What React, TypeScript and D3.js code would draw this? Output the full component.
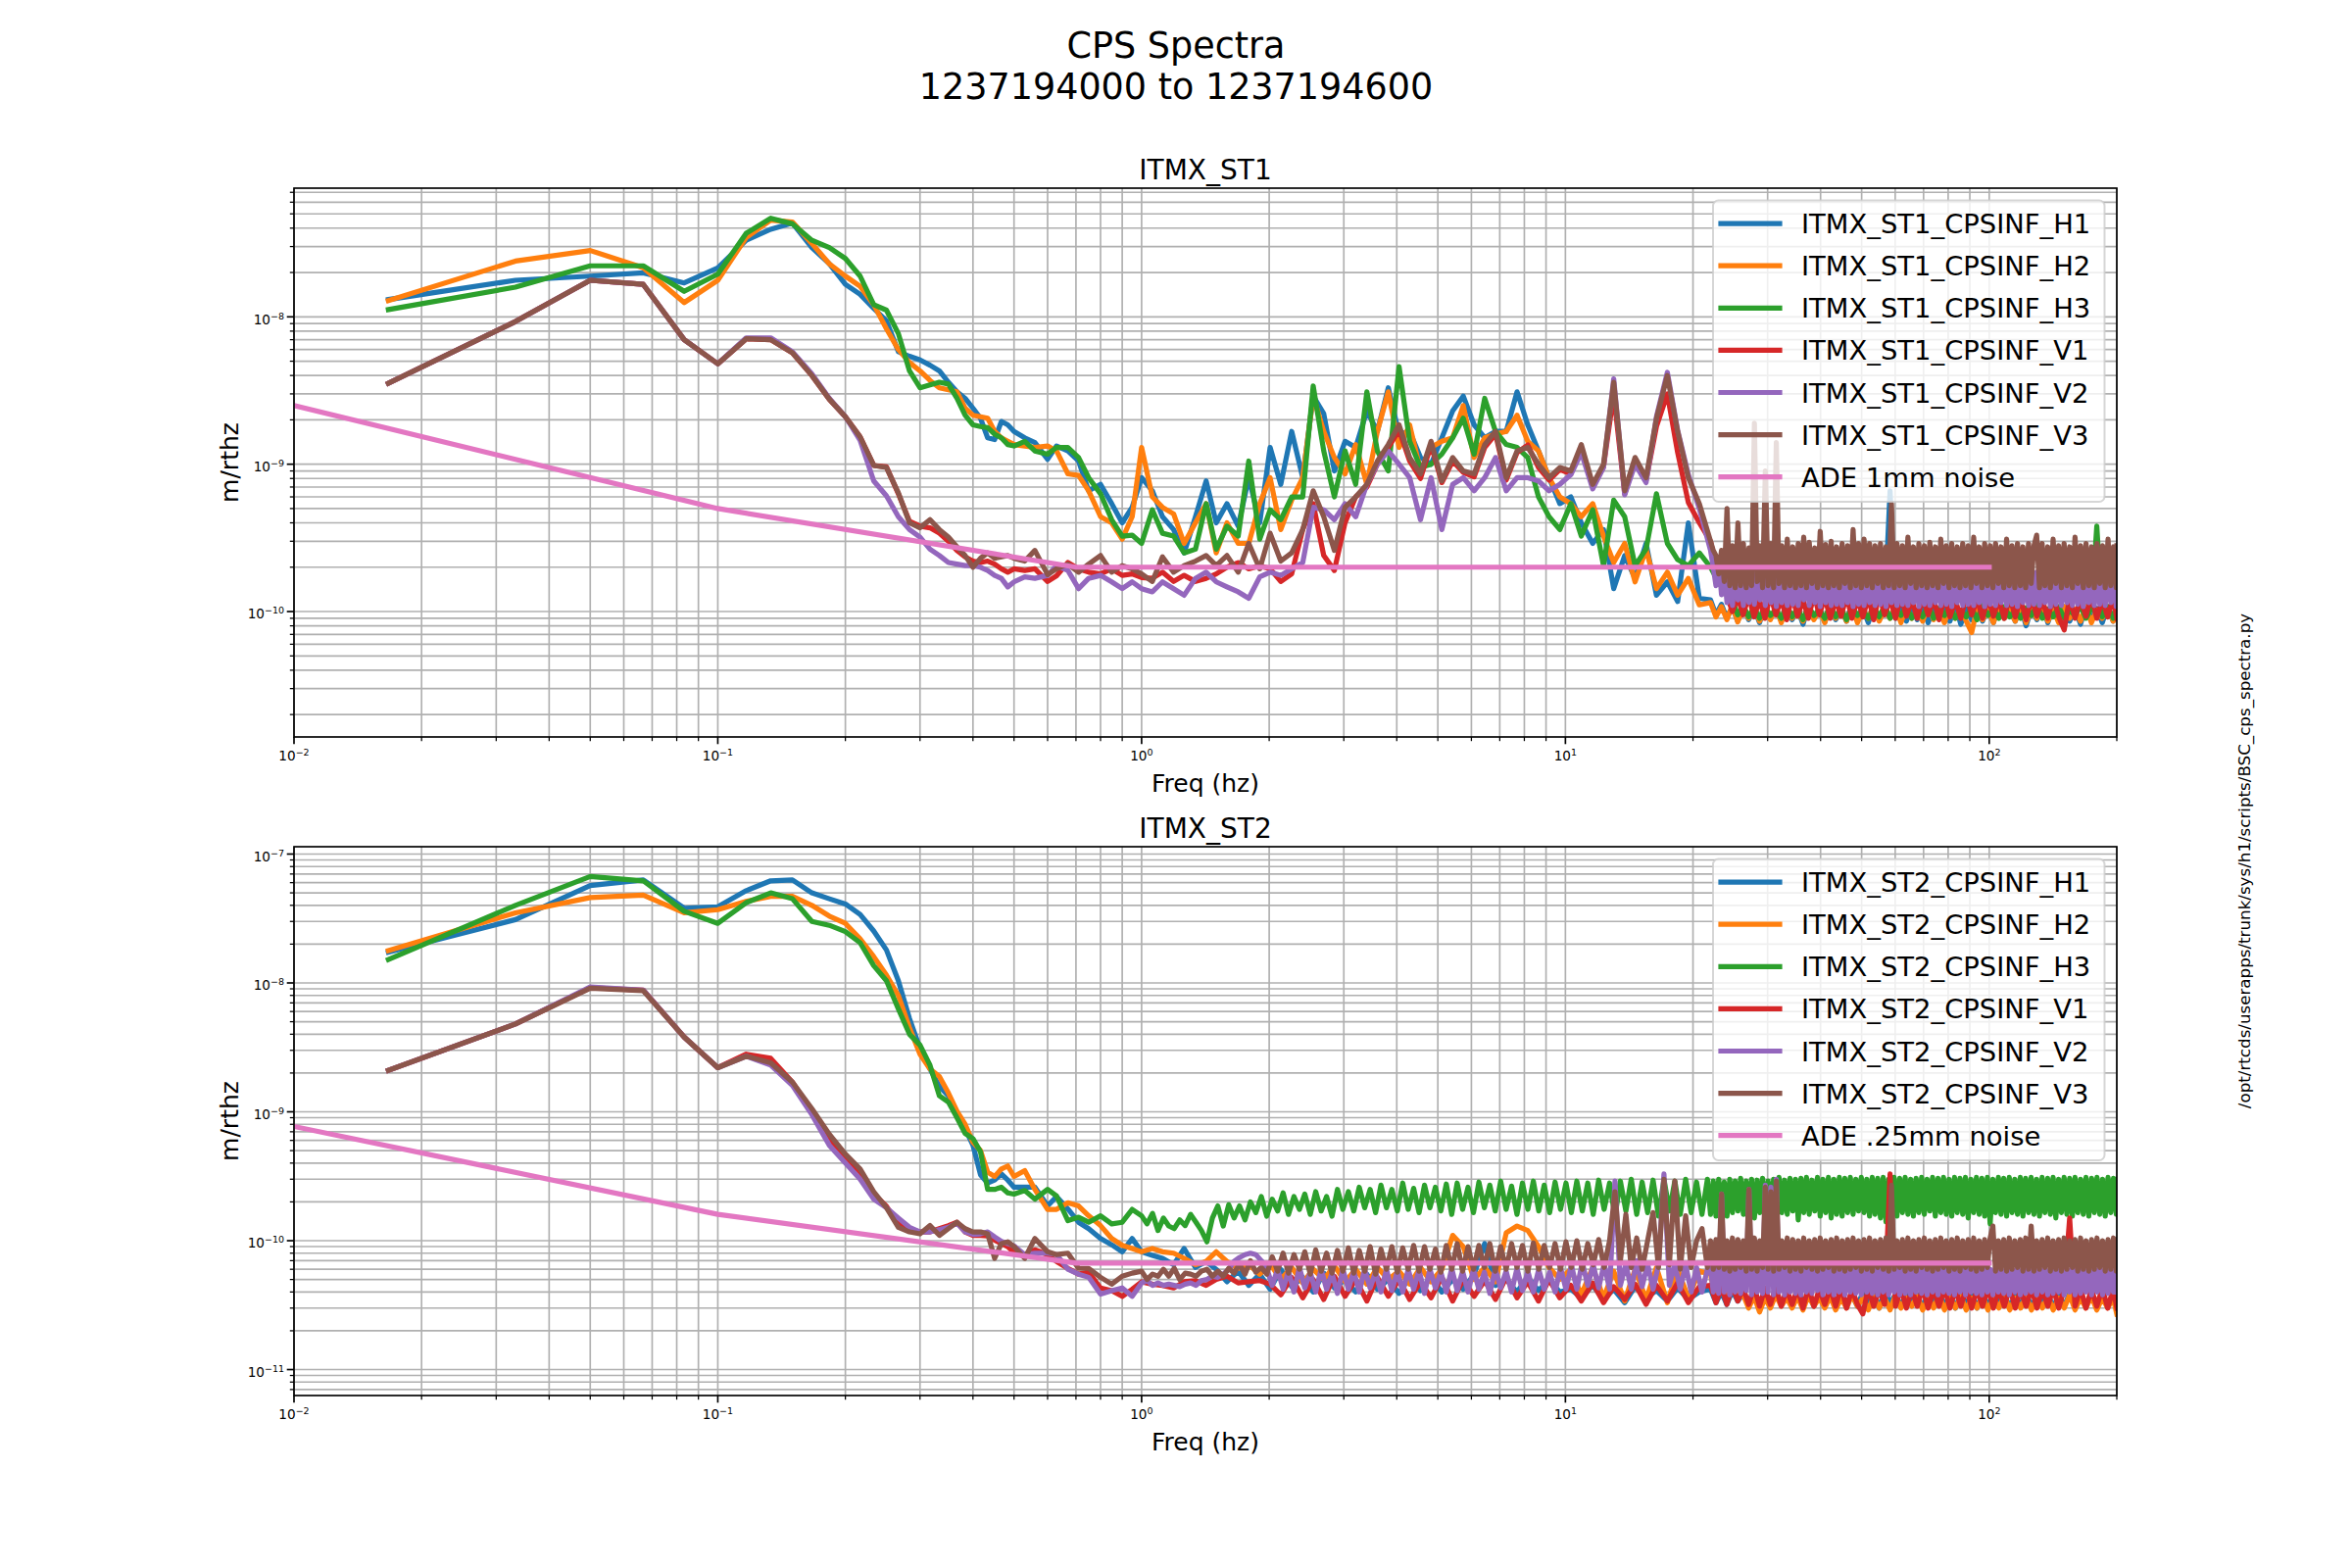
import React from 'react';
import * as d3 from 'd3';

// Frequency grid (Hz), 0.0167 – 20.7 Hz
const FREQ_LOW = [
  0.0167, 0.0333, 0.05, 0.0667, 0.0833, 0.1, 0.1167, 0.1333, 0.15, 0.1667,
  0.1833, 0.2, 0.2167, 0.2333, 0.25, 0.2667, 0.2833, 0.3, 0.3167, 0.3333,
  0.35, 0.3667, 0.3833, 0.4, 0.4167, 0.4333, 0.45, 0.4667, 0.4833, 0.5,
  0.53, 0.56, 0.6, 0.63, 0.67, 0.71, 0.75, 0.8, 0.85, 0.9,
  0.95, 1.0, 1.06, 1.12, 1.19, 1.26, 1.34, 1.42, 1.5, 1.59,
  1.69, 1.79, 1.9, 2.01, 2.13, 2.26, 2.4, 2.54, 2.69, 2.85,
  3.02, 3.2, 3.4, 3.6, 3.82, 4.05, 4.29, 4.55, 4.82, 5.11,
  5.42, 5.74, 6.09, 6.45, 6.84, 7.25, 7.69, 8.15, 8.64, 9.15,
  9.7, 10.3, 10.9, 11.6, 12.3, 13, 13.8, 14.6, 15.5, 16.4,
  17.4, 18.4, 19.5, 20.7,
];
// Finer frequency grid (Hz), 1 – 21.6 Hz (used for the ST2 noise bands)
const FREQ_MID = [
  1.0, 1.03, 1.061, 1.093, 1.126, 1.159, 1.194, 1.23, 1.267, 1.305,
  1.344, 1.384, 1.426, 1.469, 1.513, 1.558, 1.605, 1.653, 1.702, 1.754,
  1.806, 1.86, 1.916, 1.974, 2.033, 2.094, 2.157, 2.221, 2.288, 2.357,
  2.427, 2.5, 2.575, 2.652, 2.732, 2.814, 2.898, 2.985, 3.075, 3.167,
  3.262, 3.36, 3.461, 3.565, 3.671, 3.782, 3.895, 4.012, 4.132, 4.256,
  4.384, 4.515, 4.651, 4.79, 4.934, 5.082, 5.235, 5.392, 5.553, 5.72,
  5.892, 6.068, 6.25, 6.438, 6.631, 6.83, 7.035, 7.246, 7.463, 7.687,
  7.918, 8.155, 8.4, 8.652, 8.912, 9.179, 9.454, 9.738, 10.03, 10.33,
  10.64, 10.96, 11.29, 11.63, 11.98, 12.34, 12.71, 13.09, 13.48, 13.89,
  14.3, 14.73, 15.17, 15.63, 16.1, 16.58, 17.08, 17.59, 18.12, 18.66,
  19.22, 19.8, 20.39, 21.0, 21.63,
];
// Frequency grid (Hz), 22 – 200 Hz
const FREQ_HIGH = [
  22.0, 22.66, 23.34, 24.04, 24.76, 25.5, 26.27, 27.06, 27.87, 28.71,
  29.57, 30.45, 31.37, 32.31, 33.28, 34.27, 35.3, 36.36, 37.45, 38.58,
  39.73, 40.93, 42.15, 43.42, 44.72, 46.06, 47.44, 48.87, 50.33, 51.84,
  53.4, 55.0, 56.65, 58.35, 60.1, 61.9, 63.76, 65.67, 67.64, 69.67,
  71.76, 73.92, 76.13, 78.42, 80.77, 83.19, 85.69, 88.26, 90.91, 93.63,
  96.44, 99.34, 102.3, 105.4, 108.5, 111.8, 115.2, 118.6, 122.2, 125.8,
  129.6, 133.5, 137.5, 141.6, 145.9, 150.3, 154.8, 159.4, 164.2, 169.1,
  174.2, 179.4, 184.8, 190.4, 196.1, 200,
];
// Finer frequency grid (Hz), 22 – 200 Hz, for the wide noise bands
const FREQ_FINE = [
  22.0, 22.33, 22.66, 23.0, 23.35, 23.7, 24.06, 24.42, 24.78, 25.15,
  25.53, 25.91, 26.3, 26.7, 27.1, 27.5, 27.92, 28.34, 28.76, 29.19,
  29.63, 30.08, 30.53, 30.99, 31.45, 31.92, 32.4, 32.89, 33.38, 33.88,
  34.39, 34.91, 35.43, 35.96, 36.5, 37.05, 37.61, 38.17, 38.74, 39.33,
  39.92, 40.51, 41.12, 41.74, 42.37, 43.0, 43.65, 44.3, 44.97, 45.64,
  46.33, 47.02, 47.73, 48.45, 49.17, 49.91, 50.66, 51.42, 52.19, 52.97,
  53.77, 54.57, 55.39, 56.22, 57.07, 57.92, 58.79, 59.67, 60.57, 61.48,
  62.4, 63.34, 64.29, 65.25, 66.23, 67.22, 68.23, 69.26, 70.29, 71.35,
  72.42, 73.51, 74.61, 75.73, 76.87, 78.02, 79.19, 80.38, 81.58, 82.81,
  84.05, 85.31, 86.59, 87.89, 89.21, 90.55, 91.9, 93.28, 94.68, 96.1,
  97.55, 99.01, 100.5, 102.0, 103.5, 105.1, 106.6, 108.2, 109.9, 111.5,
  113.2, 114.9, 116.6, 118.4, 120.1, 121.9, 123.8, 125.6, 127.5, 129.4,
  131.4, 133.3, 135.3, 137.4, 139.4, 141.5, 143.6, 145.8, 148.0, 150.2,
  152.5, 154.8, 157.1, 159.4, 161.8, 164.3, 166.7, 169.2, 171.8, 174.4,
  177.0, 179.6, 182.3, 185.1, 187.8, 190.7, 193.5, 196.4, 199.4, 200,
];

// All spectra values below are in units of 1e-10 m/rthz
const UNIT = 1e-10;

// ---------------- ITMX_ST1 ----------------
const ST1_H1_LOW = [
  131, 177, 189, 199, 170, 215, 331, 393, 433, 295,
  229, 166, 142, 114, 94, 58, 54, 51, 47, 43,
  36, 31, 28, 24, 20.5, 15.1, 14.7, 19.5, 18.5, 16.7,
  15.1, 14, 10.8, 13.3, 12.3, 10.5, 6.6, 7.3, 5.4, 4.0,
  5.1, 8.1, 6.6, 4.4, 3.6, 2.5, 4.4, 7.7, 4.0, 5.4,
  3.8, 8.1, 4.0, 13, 7.3, 16.7, 8.1, 29, 22, 9.0,
  14.3, 13, 23, 16.7, 33, 16, 16.7, 11.1, 10, 15.1,
  23, 29, 18.5, 15.1, 16.7, 16.7, 31, 18.5, 12.3, 8.1,
  5.4, 6.0, 4.0, 2.9, 3.6, 1.43, 2.4, 1.68, 2.9, 1.29,
  1.59, 1.17, 4.0, 1.23,
];
const ST1_H1_HIGH = [
  1.2, 0.95, 1.12, 0.9, 1.08, 0.86, 1.1, 0.88, 1.05, 0.84,
  1.1, 0.9, 1.06, 0.86, 1.12, 0.88, 1.04, 0.82, 1.1, 0.9,
  1.06, 0.85, 1.1, 0.88, 1.04, 0.86, 1.12, 0.9, 1.05, 0.84,
  1.08, 0.88, 1.04, 6.6, 0.9, 1.1, 0.86, 1.06, 0.88, 1.1,
  0.84, 1.05, 0.9, 1.08, 0.86, 1.1, 0.82, 1.04, 0.88, 1.1,
  0.86, 1.06, 0.84, 1.1, 0.9, 1.04, 0.86, 1.08, 0.8, 1.05,
  0.88, 1.1, 0.84, 1.06, 0.9, 1.08, 0.86, 1.04, 0.82, 1.1,
  0.88, 1.05, 0.84, 1.08, 0.86, 1.04,
];
const ST1_H2_LOW = [
  129, 239, 282, 215, 125, 177, 346, 453, 440, 315,
  229, 189, 161, 121, 83, 60, 49, 43, 37, 33,
  32, 31, 24, 21.5, 21, 20.5, 16.7, 15.1, 14.3, 13.6,
  13.3, 13, 13.3, 12.3, 8.6, 8.4, 6.6, 4.4, 4.0, 3.1,
  4.4, 13, 6.0, 5.1, 4.6, 2.9, 4.0, 5.4, 2.5, 4.0,
  2.9, 2.9, 5.4, 8.1, 3.6, 5.7, 8.1, 29, 16.7, 11.1,
  8.6, 13.6, 7.3, 16.7, 31, 13, 18.5, 9.0, 13, 14.3,
  15.1, 25, 11.1, 15.1, 16, 16.7, 21.5, 14.3, 12.3, 8.1,
  6.0, 5.4, 4.4, 5.4, 3.25, 2.15, 2.9, 1.59, 2.65, 1.43,
  1.85, 1.29, 1.68, 1.11,
];
const ST1_H2_HIGH = [
  1.15, 0.92, 1.08, 0.88, 1.1, 0.85, 1.05, 0.9, 1.1, 0.86,
  1.04, 0.88, 1.08, 0.84, 1.1, 0.9, 1.02, 0.86, 1.08, 0.88,
  1.04, 0.84, 1.1, 0.9, 1.05, 0.86, 1.08, 0.84, 1.02, 0.9,
  1.1, 0.86, 1.04, 0.9, 1.08, 0.84, 1.06, 0.9, 1.02, 0.86,
  1.1, 0.88, 1.04, 0.84, 1.08, 0.9, 1.02, 0.86, 0.72, 1.06,
  0.88, 1.04, 0.84, 1.08, 0.9, 1.02, 0.86, 1.1, 0.84, 1.04,
  0.9, 1.06, 0.86, 1.02, 0.84, 1.08, 0.9, 1.04, 0.86, 1.08,
  0.84, 1.02, 0.9, 1.06, 0.86, 0.95,
];
const ST1_H3_LOW = [
  112, 159, 222, 222, 149, 195, 369, 467, 428, 331,
  295, 249, 189, 121, 111, 77, 43, 33, 34.5, 36,
  35, 28, 21.5, 18.5, 18, 17.7, 16, 15.1, 13.6, 13.3,
  14.3, 12.3, 11.7, 13, 13, 11.1, 8.1, 6.3, 4.2, 3.25,
  3.3, 2.9, 4.9, 3.4, 3.25, 2.5, 2.65, 5.4, 2.65, 3.8,
  3.25, 10.5, 3.1, 4.9, 4.2, 6.0, 6.0, 34, 12.3, 6.0,
  12.3, 7.3, 31, 12.3, 9.0, 46, 14.3, 9.5, 10, 11.7,
  15.1, 20.5, 11.7, 28, 16.7, 13.6, 13, 11.1, 6.0, 4.4,
  3.6, 5.4, 3.25, 4.9, 2.05, 5.7, 4.4, 2.05, 2.65, 6.3,
  2.9, 2.25, 2.05, 2.5,
];
const ST1_H3_HIGH = [
  2.0, 1.7, 2.2, 1.4, 1.2, 0.95, 1.1, 0.92, 1.05, 0.9,
  1.08, 0.94, 1.02, 0.9, 1.1, 0.92, 1.05, 0.88, 1.08, 0.94,
  1.02, 0.9, 1.1, 0.92, 1.04, 0.88, 1.08, 0.94, 1.02, 0.9,
  1.06, 0.92, 1.1, 0.9, 1.04, 0.94, 1.08, 0.9, 1.02, 0.92,
  1.1, 0.9, 1.05, 0.94, 1.08, 0.9, 1.02, 0.92, 1.06, 0.88,
  1.1, 0.94, 1.04, 0.9, 1.08, 0.92, 1.02, 0.9, 1.06, 0.94,
  1.1, 0.9, 1.04, 0.92, 1.08, 0.9, 1.02, 0.94, 1.1, 0.9,
  1.05, 3.8, 0.92, 1.08, 0.9, 1.04,
];
const ST1_V1_LOW = [
  35.4, 93, 177, 166, 70, 48, 71, 70, 57, 40,
  27.6, 21, 15.3, 9.8, 9.6, 6.3, 4.1, 3.8, 3.7, 3.4,
  3.0, 2.6, 2.35, 2.2, 2.15, 2.2, 2.1, 1.95, 1.85, 1.95,
  1.9, 1.95, 1.6, 1.75, 2.15, 1.95, 1.85, 1.8, 1.95, 1.76,
  1.8, 1.7, 1.68, 1.85, 1.6, 1.76, 1.6, 1.68, 1.8, 2.0,
  2.15, 1.95, 2.05, 1.95, 1.6, 1.8, 3.6, 5.4, 2.4, 1.9,
  4.0, 6.0, 7.0, 10, 13, 17, 10.5, 8.0, 13.5, 7.5,
  10.5, 8.8, 8.2, 13, 16, 7.8, 12, 13.5, 9.5, 7.8,
  9.2, 8.6, 13, 7.0, 9.6, 30, 6.3, 10.5, 7.8, 18,
  30, 12, 5.5, 4.0,
];
const ST1_V1_HIGH = [
  3.0, 2.0, 1.5, 1.3, 1.0, 1.25, 0.95, 1.28, 0.92, 1.2,
  0.9, 1.3, 0.95, 1.22, 0.88, 1.28, 0.93, 1.2, 0.9, 1.3,
  0.95, 1.25, 0.9, 1.2, 0.93, 1.28, 0.9, 1.22, 0.92, 1.25,
  0.88, 1.3, 0.95, 1.22, 0.9, 1.28, 0.93, 1.2, 0.9, 1.25,
  0.95, 1.22, 0.88, 1.28, 0.92, 1.2, 0.9, 1.3, 0.95, 1.22,
  0.9, 1.25, 0.93, 1.2, 0.9, 1.28, 0.92, 1.22, 0.88, 1.25,
  0.93, 1.2, 0.9, 1.28, 0.92, 0.75, 1.25, 0.9, 1.22, 0.93,
  1.28, 0.9, 1.2, 0.92, 1.25, 0.9,
];
const ST1_V2_LOW = [
  35.4, 93, 177, 166, 70, 48, 72, 72, 58, 41,
  28, 21, 14.5, 7.7, 6.1, 4.4, 3.6, 3.2, 2.65, 2.4,
  2.15, 2.1, 2.05, 2.05, 2.0, 1.9, 1.76, 1.68, 1.47, 1.59,
  1.72, 1.68, 1.76, 2.05, 1.9, 1.43, 1.68, 1.76, 1.59, 1.43,
  1.59, 1.43, 1.36, 1.59, 1.43, 1.29, 1.68, 1.85, 1.59, 1.47,
  1.36, 1.23, 1.72, 1.85, 1.76, 1.95, 2.15, 5.1, 4.9, 4.2,
  5.4, 4.4, 7.3, 10, 12.3, 10, 8.1, 4.2, 8.1, 3.6,
  7.3, 8.1, 6.6, 8.1, 11.1, 6.6, 8.1, 8.1, 7.7, 6.6,
  7.3, 8.5, 12, 6.8, 9.5, 38, 6.2, 10, 7.5, 21,
  42, 17, 8.5, 5.0,
];
const ST1_V2_FINE = [
  2.6, 2.0, 1.5, 2.2, 1.3, 1.9, 1.15, 1.85, 1.1, 1.95,
  1.2, 1.8, 1.1, 1.9, 1.15, 1.85, 1.12, 1.9, 1.2, 1.8,
  1.1, 1.95, 1.15, 1.85, 1.08, 1.9, 1.15, 1.8, 1.1, 1.9,
  1.12, 1.85, 1.1, 1.95, 1.2, 1.8, 1.1, 1.9, 1.15, 1.85,
  1.08, 1.9, 1.15, 1.8, 1.1, 1.95, 1.12, 1.85, 1.1, 1.9,
  1.15, 1.8, 1.08, 1.9, 1.12, 1.85, 1.1, 1.95, 1.15, 1.8,
  1.1, 1.9, 1.12, 1.85, 1.08, 1.9, 1.15, 1.8, 1.1, 1.95,
  1.12, 1.85, 1.1, 1.9, 1.15, 1.8, 1.08, 1.9, 1.12, 1.85,
  1.1, 1.95, 1.15, 1.8, 1.1, 1.9, 1.12, 1.85, 1.08, 1.9,
  1.15, 1.8, 1.1, 1.95, 1.12, 1.85, 1.1, 1.9, 1.15, 1.8,
  1.08, 1.9, 1.12, 1.85, 1.1, 1.95, 1.15, 1.8, 1.1, 1.9,
  1.12, 1.85, 1.08, 1.9, 1.15, 1.8, 1.1, 1.95, 1.12, 1.85,
  1.1, 1.9, 1.15, 1.8, 1.08, 1.9, 1.12, 1.85, 1.1, 1.95,
  1.15, 1.8, 1.1, 1.9, 1.12, 1.85, 1.08, 1.9, 1.15, 1.8,
  1.1, 1.95, 1.12, 1.85, 1.1, 1.9, 1.15, 1.8, 1.08, 1.85,
];
const ST1_V3_LOW = [
  35.4, 93, 177, 166, 70, 48, 71, 70, 57, 40,
  27.6, 21, 15.3, 9.8, 9.5, 6.4, 4.0, 3.7, 4.2, 3.6,
  3.2, 2.75, 2.4, 2.0, 2.3, 2.5, 2.3, 2.35, 2.4, 2.3,
  2.2, 2.6, 1.78, 1.95, 2.1, 1.85, 2.1, 2.4, 1.85, 2.05,
  1.95, 1.8, 1.6, 2.35, 1.85, 2.05, 2.2, 2.4, 2.05, 2.4,
  1.85, 2.9, 1.95, 3.4, 2.2, 2.5, 3.6, 6.6, 4.4, 2.6,
  5.1, 6.0, 7.3, 10.5, 13.6, 18.5, 11.1, 8.6, 14.3, 7.7,
  11.1, 9.0, 8.6, 13.6, 16.7, 8.1, 12.3, 13, 10, 8.1,
  9.5, 9.0, 13.6, 7.3, 10, 36, 6.6, 11.1, 8.1, 20.5,
  40, 16.7, 8.1, 5.4,
];
const ST1_V3_FINE = [
  3.0, 2.6, 2.4, 1.8, 2.6, 1.6, 5.0, 1.5, 2.8, 1.45,
  4.0, 1.5, 2.9, 1.45, 2.7, 1.5, 19, 1.6, 2.8, 1.45,
  9.0, 1.5, 2.9, 1.45, 14, 1.55, 2.8, 1.45, 3.1, 1.5,
  2.75, 1.45, 2.9, 1.5, 3.2, 1.45, 2.95, 1.55, 2.7, 1.45,
  3.5, 1.5, 2.85, 1.45, 3.0, 1.5, 2.75, 1.45, 2.9, 1.55,
  2.8, 1.45, 3.6, 1.5, 2.9, 1.45, 3.1, 1.5, 2.9, 1.45,
  2.8, 1.55, 2.9, 1.45, 2.75, 1.5, 5.4, 1.45, 2.9, 1.5,
  2.8, 1.45, 3.2, 1.55, 2.75, 1.45, 2.9, 1.5, 2.8, 1.45,
  2.95, 1.5, 2.75, 1.45, 3.1, 1.55, 2.8, 1.45, 2.9, 1.5,
  2.75, 1.45, 2.9, 1.5, 2.8, 1.45, 3.2, 1.55, 2.75, 1.45,
  2.9, 1.5, 2.8, 1.45, 2.9, 1.55, 2.75, 1.45, 3.1, 1.5,
  2.8, 1.45, 2.9, 1.5, 2.75, 1.45, 2.9, 1.55, 2.8, 3.3,
  1.45, 2.9, 1.5, 2.75, 1.45, 3.1, 1.55, 2.8, 1.45, 2.9,
  1.5, 2.75, 1.45, 3.2, 1.55, 2.8, 1.45, 2.9, 1.5, 2.75,
  1.45, 2.9, 1.55, 2.8, 1.45, 3.1, 1.5, 2.75, 1.45, 2.8,
];

// ---------------- ITMX_ST2 ----------------
const ST2_H1_LOW = [
  173, 310, 570, 630, 380, 390, 520, 620, 630, 500,
  450, 410, 340, 253, 180, 104, 53, 31, 21.5, 15.8,
  13.3, 9.8, 7.4, 5.5, 3.25, 2.8, 2.95, 3.3, 2.95, 2.6,
  2.6, 2.6, 1.86, 2.2, 1.76, 1.39, 1.24, 1.04, 0.93, 0.82,
  1.04, 0.82, 0.77, 0.73, 0.65, 0.87, 0.62, 0.69, 0.6, 0.48,
  0.58, 0.45, 0.55, 0.42, 0.6, 0.44, 0.52, 0.4, 0.56, 0.43,
  0.5, 0.4, 0.55, 0.42, 0.5, 0.39, 0.53, 0.41, 0.52, 0.4,
  0.5, 0.42, 0.55, 0.95, 0.45, 0.5, 0.4, 0.52, 0.41, 0.5,
  0.4, 0.42, 0.36, 0.45, 0.35, 0.42, 0.33, 0.44, 0.36, 0.41,
  0.34, 0.43, 0.35, 0.4,
];
const ST2_H1_HIGH = [
  0.42, 0.33, 0.4, 0.32, 0.41, 0.34, 0.39, 0.32, 0.41, 0.33,
  0.4, 0.31, 0.4, 0.33, 0.39, 0.32, 0.41, 0.33, 0.38, 0.31,
  0.4, 0.32, 0.39, 0.3, 0.4, 0.33, 0.38, 0.31, 0.4, 0.32,
  0.39, 0.3, 0.41, 0.33, 0.38, 0.31, 0.4, 0.32, 0.38, 0.3,
  0.39, 0.32, 0.4, 0.31, 0.38, 0.3, 0.39, 0.32, 0.38, 0.3,
  0.4, 0.31, 0.38, 0.32, 0.39, 0.3, 0.38, 0.31, 0.4, 0.3,
  0.38, 0.32, 0.39, 0.3, 0.38, 0.31, 0.39, 0.3, 0.38, 0.32,
  0.39, 0.3, 0.38, 0.31, 0.39, 0.31,
];
const ST2_H2_LOW = [
  178, 350, 460, 480, 350, 370, 430, 470, 470, 400,
  330, 290, 220, 160, 115, 80, 45, 28, 21.5, 18.8,
  14, 10.1, 8.0, 5.8, 5.0, 3.4, 3.15, 3.6, 3.8, 3.15,
  3.5, 2.5, 1.75, 1.75, 1.97, 1.86, 1.56, 1.31, 1.04, 0.92,
  0.87, 0.82, 0.87, 0.82, 0.8, 0.73, 0.65, 0.69, 0.82, 0.69,
  0.61, 0.65, 0.55, 0.66, 0.5, 0.62, 0.47, 0.6, 0.5, 0.64,
  0.48, 0.6, 0.46, 0.62, 0.5, 0.58, 0.46, 0.62, 0.48, 0.6,
  1.1, 0.9, 0.5, 0.62, 0.48, 1.15, 1.3, 1.2, 0.9, 0.62,
  0.5, 0.6, 0.38, 0.62, 0.36, 0.58, 0.34, 0.6, 0.35, 0.62,
  0.33, 0.6, 0.36, 0.58,
];
const ST2_H2_HIGH = [
  0.55, 0.34, 0.58, 0.33, 0.5, 0.36, 0.38, 0.3, 0.37, 0.28,
  0.36, 0.3, 0.38, 0.31, 0.36, 0.3, 0.37, 0.29, 0.38, 0.31,
  0.36, 0.3, 0.37, 0.29, 0.36, 0.3, 0.38, 0.31, 0.36, 0.29,
  0.37, 0.3, 0.36, 0.29, 0.38, 0.3, 0.36, 0.31, 0.37, 0.29,
  0.36, 0.3, 0.38, 0.29, 0.36, 0.3, 0.37, 0.29, 0.36, 0.3,
  0.37, 0.29, 0.36, 0.3, 0.38, 0.29, 0.36, 0.3, 0.37, 0.29,
  0.36, 0.3, 0.37, 0.29, 0.36, 0.3, 0.38, 0.29, 0.36, 0.3,
  0.37, 0.29, 0.36, 0.3, 0.36, 0.27,
];
// ST2 H3 / V2 / V3 below 1 Hz (first 41 grid points of FREQ_LOW)
const ST2_H3_LOW = [
  152, 400, 670, 620, 360, 290, 420, 500, 450, 300,
  280, 250, 205, 136, 104, 63, 40, 33, 23, 13.3,
  11.9, 9.0, 6.8, 6.2, 4.9, 2.5, 2.5, 2.6, 2.35, 2.3,
  2.45, 2.1, 2.5, 2.22, 1.43, 1.52, 1.39, 1.56, 1.35, 1.39,
  1.75,
];
const ST2_H3_MID = [
  1.56, 1.35, 1.63, 1.2, 1.5, 1.3, 1.24, 1.45, 1.31, 1.6,
  1.39, 1.2, 0.98, 1.5, 1.86, 1.3, 1.9, 1.5, 1.86, 1.45,
  2.0, 1.65, 2.2, 1.55, 2.1, 1.7, 2.35, 1.6, 2.2, 1.75,
  2.3, 1.6, 2.4, 1.7, 2.2, 1.55, 2.5, 1.75, 2.4, 1.7,
  2.6, 1.8, 2.5, 1.65, 2.7, 1.8, 2.5, 1.7, 2.8, 1.75,
  2.55, 1.65, 2.7, 1.8, 2.6, 1.7, 2.75, 1.6, 2.8, 1.75,
  2.6, 1.65, 2.85, 1.8, 2.7, 1.7, 2.9, 1.75, 2.65, 1.6,
  2.8, 1.75, 2.9, 1.7, 2.7, 1.65, 2.85, 1.75, 2.8, 1.65,
  2.9, 1.7, 2.8, 1.6, 2.95, 1.75, 2.8, 1.55, 2.9, 1.7,
  3.0, 1.6, 2.85, 1.65, 2.95, 1.55, 3.0, 1.7, 2.9, 1.6,
  3.0, 1.65, 2.85, 1.6, 3.0,
];
const ST2_H3_FINE = [
  1.6, 2.9, 1.55, 3.0, 1.7, 2.85, 1.55, 3.0, 1.65, 2.9,
  1.7, 3.05, 1.6, 2.9, 1.7, 3.0, 1.5, 2.95, 1.65, 3.05,
  1.6, 2.9, 1.7, 3.0, 1.55, 3.1, 1.65, 2.95, 1.6, 3.05,
  1.7, 3.0, 1.45, 3.05, 1.65, 3.1, 1.6, 2.95, 1.7, 3.1,
  1.55, 3.0, 1.65, 3.1, 1.5, 3.0, 1.6, 3.1, 1.55, 3.05,
  1.65, 3.1, 1.6, 3.0, 1.7, 3.1, 1.65, 3.0, 1.55, 3.1,
  1.6, 3.05, 1.5, 3.1, 1.4, 3.0, 1.6, 3.1, 1.55, 3.05,
  1.65, 3.1, 1.6, 3.0, 1.55, 3.05, 1.65, 3.1, 1.6, 3.0,
  1.7, 3.1, 1.55, 3.05, 1.65, 3.1, 1.6, 3.0, 1.55, 3.1,
  1.65, 3.05, 1.6, 3.1, 1.5, 3.0, 1.65, 3.1, 1.6, 3.05,
  1.55, 3.1, 1.35, 3.0, 1.65, 3.1, 1.6, 3.05, 1.55, 3.1,
  1.65, 3.0, 1.6, 3.1, 1.55, 3.05, 1.65, 3.1, 1.6, 3.0,
  1.55, 3.1, 1.65, 3.05, 1.6, 3.1, 1.5, 3.0, 1.65, 3.1,
  1.6, 3.05, 1.55, 3.1, 1.65, 3.0, 1.6, 3.1, 1.55, 3.05,
  1.65, 3.1, 1.6, 3.0, 1.55, 3.1, 1.65, 3.05, 1.6, 3.0,
];
const ST2_V1_LOW = [
  21, 48, 92, 88, 38, 22, 28, 26, 17, 10,
  6.2, 4.5, 3.4, 2.3, 1.85, 1.35, 1.23, 1.17, 1.17, 1.24,
  1.31, 1.39, 1.17, 1.1, 1.1, 1.09, 1.01, 0.95, 0.9, 0.81,
  0.78, 0.85, 0.78, 0.69, 0.61, 0.55, 0.57, 0.43, 0.41, 0.37,
  0.42, 0.48, 0.46, 0.45, 0.43, 0.48, 0.49, 0.45, 0.5, 0.53,
  0.47, 0.48, 0.49, 0.46, 0.38, 0.52, 0.36, 0.5, 0.35, 0.53,
  0.37, 0.5, 0.34, 0.52, 0.37, 0.5, 0.35, 0.48, 0.36, 0.52,
  0.34, 0.5, 0.37, 0.49, 0.35, 0.52, 0.36, 0.48, 0.34, 0.5,
  0.36, 0.45, 0.34, 0.47, 0.33, 0.44, 0.35, 0.46, 0.32, 0.45,
  0.34, 0.47, 0.33, 0.44,
];
const ST2_V1_HIGH = [
  0.45, 0.33, 0.44, 0.32, 0.45, 0.34, 0.43, 0.32, 0.44, 0.31,
  0.43, 0.32, 0.44, 0.31, 0.42, 0.32, 0.43, 0.3, 0.44, 0.31,
  0.42, 0.32, 0.43, 0.31, 0.44, 0.3, 0.42, 0.32, 0.27, 0.43,
  0.31, 0.42, 0.32, 3.3, 0.31, 0.43, 0.3, 0.42, 0.31, 0.43,
  0.3, 0.42, 0.31, 0.43, 0.3, 0.42, 0.31, 0.43, 0.3, 0.42,
  0.31, 0.43, 0.3, 0.42, 0.31, 0.43, 0.3, 0.42, 0.31, 0.43,
  0.3, 0.42, 0.31, 0.43, 0.3, 0.42, 1.5, 0.31, 0.43, 0.3,
  0.42, 0.31, 0.43, 0.3, 0.42, 0.3,
];
const ST2_V2_LOW = [
  21, 48, 93, 88, 38, 22, 27, 23, 16, 9.5,
  5.5, 4.0, 3.0, 2.1, 1.8, 1.5, 1.27, 1.17, 1.17, 1.22,
  1.27, 1.37, 1.17, 1.12, 1.13, 1.17, 1.07, 0.99, 0.95, 0.91,
  0.78, 0.8, 0.8, 0.78, 0.6, 0.55, 0.52, 0.385, 0.41, 0.43,
  0.37,
];
const ST2_V2_MID = [
  0.47, 0.49, 0.45, 0.47, 0.45, 0.46, 0.45, 0.44, 0.46, 0.47,
  0.45, 0.49, 0.5, 0.53, 0.52, 0.55, 0.6, 0.69, 0.74, 0.78,
  0.8, 0.78, 0.7, 0.61, 0.45, 0.6, 0.42, 0.58, 0.4, 0.62,
  0.43, 0.57, 0.4, 0.6, 0.42, 0.56, 0.39, 0.6, 0.42, 0.58,
  0.4, 0.6, 0.43, 0.57, 0.4, 0.6, 0.41, 0.58, 0.4, 0.6,
  0.42, 0.59, 0.39, 0.6, 0.43, 0.57, 0.4, 0.61, 0.41, 0.58,
  0.4, 0.6, 0.42, 0.57, 0.39, 0.6, 0.43, 0.58, 0.4, 0.61,
  0.41, 0.58, 0.4, 0.6, 0.42, 0.57, 0.4, 0.62, 0.42, 0.65,
  0.42, 0.68, 0.45, 0.65, 0.43, 0.66, 0.42, 2.9, 0.45, 0.66,
  0.42, 0.7, 0.44, 0.66, 0.42, 0.65, 3.3, 0.45, 0.66, 0.42,
  0.65, 0.4, 0.62, 0.4, 0.6,
];
const ST2_V2_FINE = [
  0.62, 0.4, 0.6, 0.39, 2.3, 0.4, 0.62, 0.38, 0.6, 0.4,
  0.63, 0.39, 0.6, 0.41, 2.5, 0.38, 0.6, 0.4, 0.62, 0.39,
  2.7, 0.4, 2.6, 0.38, 3.0, 0.4, 0.6, 0.38, 0.62, 0.4,
  0.6, 0.39, 0.62, 0.38, 0.6, 0.4, 0.63, 0.39, 0.6, 0.41,
  0.62, 0.38, 0.6, 0.4, 0.62, 0.38, 0.6, 0.4, 0.63, 0.38,
  0.6, 0.4, 0.62, 0.39, 0.6, 0.38, 0.62, 0.4, 0.6, 0.39,
  0.62, 0.38, 0.6, 0.4, 0.63, 0.38, 0.6, 0.4, 0.62, 0.38,
  0.6, 0.39, 0.62, 0.38, 0.6, 0.4, 0.62, 0.39, 0.6, 0.38,
  0.63, 0.4, 0.6, 0.38, 0.62, 0.4, 0.6, 0.39, 0.62, 0.38,
  0.6, 0.4, 0.63, 0.38, 0.6, 0.4, 0.62, 0.39, 0.6, 0.38,
  0.62, 0.4, 0.6, 0.38, 0.63, 0.4, 0.6, 0.39, 0.62, 0.38,
  0.6, 0.4, 0.62, 0.38, 0.6, 0.39, 0.63, 0.4, 0.6, 0.38,
  0.62, 0.4, 0.6, 0.38, 0.62, 0.39, 0.6, 0.4, 0.63, 0.38,
  0.6, 0.4, 0.62, 0.38, 0.6, 0.39, 0.62, 0.4, 0.6, 0.38,
  0.63, 0.4, 0.6, 0.38, 0.62, 0.39, 0.6, 0.4, 0.62, 0.4,
];
const ST2_V3_LOW = [
  21, 48, 91, 87, 38, 22, 27, 24, 17, 10.6,
  6.7, 4.7, 3.6, 2.4, 1.8, 1.27, 1.17, 1.13, 1.31, 1.1,
  1.24, 1.39, 1.24, 1.17, 1.17, 1.13, 0.73, 0.95, 0.98, 0.9,
  0.73, 1.04, 0.82, 0.78, 0.8, 0.61, 0.61, 0.52, 0.46, 0.53,
  0.56,
];
const ST2_V3_MID = [
  0.58, 0.5, 0.55, 0.53, 0.6, 0.53, 0.61, 0.5, 0.56, 0.55,
  0.53, 0.58, 0.6, 0.53, 0.58, 0.53, 0.61, 0.56, 0.66, 0.55,
  0.7, 0.57, 0.62, 0.55, 0.75, 0.58, 0.8, 0.56, 0.78, 0.6,
  0.82, 0.55, 0.85, 0.58, 0.8, 0.56, 0.84, 0.58, 0.88, 0.56,
  0.84, 0.58, 0.9, 0.55, 0.86, 0.6, 0.9, 0.57, 0.88, 0.6,
  0.92, 0.58, 0.9, 0.6, 0.86, 0.57, 0.92, 0.6, 0.95, 0.58,
  0.9, 0.6, 0.92, 0.62, 0.95, 0.58, 0.9, 0.6, 0.95, 0.62,
  0.92, 0.58, 0.96, 0.6, 0.92, 0.62, 0.95, 0.6, 0.98, 0.62,
  1.0, 0.6, 0.95, 0.65, 1.02, 0.62, 1.0, 2.4, 0.7, 1.6,
  0.62, 1.05, 0.6, 1.0, 1.65, 0.62, 3.0, 0.65, 2.9, 0.6,
  1.56, 0.62, 1.0, 1.24, 0.62,
];
const ST2_V3_FINE = [
  1.0, 0.6, 1.02, 0.62, 2.3, 0.6, 1.0, 0.58, 1.05, 0.6,
  1.02, 0.62, 1.0, 0.58, 2.5, 0.6, 1.05, 0.58, 1.0, 0.62,
  2.6, 0.6, 2.4, 0.58, 2.9, 0.6, 1.0, 0.62, 1.05, 0.58,
  1.02, 0.6, 1.0, 0.58, 1.05, 0.62, 1.0, 0.6, 1.02, 0.58,
  1.05, 0.6, 1.0, 0.62, 1.02, 0.58, 1.05, 0.6, 1.0, 0.58,
  1.02, 0.6, 1.05, 0.62, 1.0, 0.58, 1.02, 0.6, 1.05, 0.58,
  1.0, 0.62, 1.02, 0.6, 1.05, 0.58, 2.7, 0.6, 1.0, 0.62,
  1.02, 0.58, 1.05, 0.6, 1.0, 0.58, 1.02, 0.62, 1.05, 0.6,
  1.0, 0.58, 1.02, 0.6, 1.05, 0.62, 1.0, 0.58, 1.02, 0.6,
  1.05, 0.58, 1.0, 0.62, 1.02, 0.6, 1.05, 0.58, 1.0, 0.6,
  1.02, 0.62, 1.05, 1.3, 0.58, 1.0, 0.6, 1.02, 0.58, 1.05,
  0.6, 1.0, 0.62, 1.02, 0.58, 1.05, 0.6, 1.3, 0.58, 1.0,
  0.6, 1.02, 0.62, 1.05, 0.58, 1.0, 0.6, 1.02, 0.58, 1.05,
  0.6, 1.0, 0.62, 1.02, 0.58, 1.05, 0.6, 1.0, 0.58, 1.02,
  0.6, 1.05, 0.62, 1.0, 0.58, 1.02, 0.6, 1.05, 0.58, 1.02,
];

// ADE noise requirement curves
const ADE_FREQ = [0.01, 0.1, 0.7, 100];
const ADE_1MM = [25, 5, 2, 2];
const ADE_025MM = [7.7, 1.6, 0.67, 0.67];

const F_STD = [...FREQ_LOW, ...FREQ_HIGH];
const F_FINE = [...FREQ_LOW, ...FREQ_FINE];
const F_DENSE = [...FREQ_LOW.slice(0, 41), ...FREQ_MID, ...FREQ_FINE];

const COLORS = ['#1f77b4', '#ff7f0e', '#2ca02c', '#d62728', '#9467bd', '#8c564b', '#e377c2'];
const FONT = "'DejaVu Sans', sans-serif";

const X_DOMAIN: [number, number] = [0.01, 200];
const X_RANGE: [number, number] = [300, 2160];
const LW = 5.2;

type Series = { name: string; freq: number[]; vals: number[] };

const PANELS = [
  {
    title: 'ITMX_ST1',
    top: 192,
    bottom: 752,
    yDomain: [1.409e-11, 7.47e-8] as [number, number],
    series: [
      { name: 'ITMX_ST1_CPSINF_H1', freq: F_STD, vals: [...ST1_H1_LOW, ...ST1_H1_HIGH] },
      { name: 'ITMX_ST1_CPSINF_H2', freq: F_STD, vals: [...ST1_H2_LOW, ...ST1_H2_HIGH] },
      { name: 'ITMX_ST1_CPSINF_H3', freq: F_STD, vals: [...ST1_H3_LOW, ...ST1_H3_HIGH] },
      { name: 'ITMX_ST1_CPSINF_V1', freq: F_STD, vals: [...ST1_V1_LOW, ...ST1_V1_HIGH] },
      { name: 'ITMX_ST1_CPSINF_V2', freq: F_FINE, vals: [...ST1_V2_LOW, ...ST1_V2_FINE] },
      { name: 'ITMX_ST1_CPSINF_V3', freq: F_FINE, vals: [...ST1_V3_LOW, ...ST1_V3_FINE] },
      { name: 'ADE 1mm noise', freq: ADE_FREQ, vals: ADE_1MM },
    ] as Series[],
  },
  {
    title: 'ITMX_ST2',
    top: 864,
    bottom: 1424,
    yDomain: [6.29e-12, 1.14e-7] as [number, number],
    series: [
      { name: 'ITMX_ST2_CPSINF_H1', freq: F_STD, vals: [...ST2_H1_LOW, ...ST2_H1_HIGH] },
      { name: 'ITMX_ST2_CPSINF_H2', freq: F_STD, vals: [...ST2_H2_LOW, ...ST2_H2_HIGH] },
      { name: 'ITMX_ST2_CPSINF_H3', freq: F_DENSE, vals: [...ST2_H3_LOW, ...ST2_H3_MID, ...ST2_H3_FINE] },
      { name: 'ITMX_ST2_CPSINF_V1', freq: F_STD, vals: [...ST2_V1_LOW, ...ST2_V1_HIGH] },
      { name: 'ITMX_ST2_CPSINF_V2', freq: F_DENSE, vals: [...ST2_V2_LOW, ...ST2_V2_MID, ...ST2_V2_FINE] },
      { name: 'ITMX_ST2_CPSINF_V3', freq: F_DENSE, vals: [...ST2_V3_LOW, ...ST2_V3_MID, ...ST2_V3_FINE] },
      { name: 'ADE .25mm noise', freq: ADE_FREQ, vals: ADE_025MM },
    ] as Series[],
  },
];

function logTicks(domain: [number, number]) {
  const out: { v: number; e: number; major: boolean }[] = [];
  const e0 = Math.floor(Math.log10(domain[0])) - 1;
  const e1 = Math.ceil(Math.log10(domain[1])) + 1;
  for (let e = e0; e <= e1; e++) {
    for (let m = 1; m <= 9; m++) {
      const v = m * Math.pow(10, e);
      if (v >= domain[0] * 0.9999 && v <= domain[1] * 1.0001) out.push({ v, e, major: m === 1 });
    }
  }
  return out;
}

function expLabel(e: number) {
  return e < 0 ? '\u2212' + String(-e) : String(e);
}

const GRID = '#b0b0b0';

function Panel({ p, idx }: { p: (typeof PANELS)[number]; idx: number }) {
  const x = d3.scaleLog().domain(X_DOMAIN).range(X_RANGE);
  const y = d3.scaleLog().domain(p.yDomain).range([p.bottom, p.top]);
  const xt = logTicks(X_DOMAIN);
  const yt = logTicks(p.yDomain);
  const line = d3
    .line<[number, number]>()
    .x((d) => x(d[0]))
    .y((d) => y(d[1] * UNIT));
  const clipId = `clip${idx}`;
  const left = X_RANGE[0];
  const right = X_RANGE[1];
  const legTop = p.top + 12.5;
  const legLeft = 1748;
  const legW = 399.5;
  const legH = 307.5;
  return (
    <g>
      <defs>
        <clipPath id={clipId}>
          <rect x={left} y={p.top} width={right - left} height={p.bottom - p.top} />
        </clipPath>
      </defs>
      <g stroke={GRID} strokeWidth={1.67}>
        {xt.map((t, i) => (
          <line key={'gx' + i} x1={x(t.v)} x2={x(t.v)} y1={p.top} y2={p.bottom} />
        ))}
        {yt.map((t, i) => (
          <line key={'gy' + i} x1={left} x2={right} y1={y(t.v)} y2={y(t.v)} />
        ))}
      </g>
      <g clipPath={`url(#${clipId})`} fill="none">
        {p.series.map((s, i) => (
          <path
            key={s.name}
            d={line(s.freq.map((f, k) => [f, s.vals[k]] as [number, number])) || ''}
            stroke={COLORS[i]}
            strokeWidth={LW}
            strokeLinejoin="round"
            strokeLinecap="square"
          />
        ))}
      </g>
      <rect x={left} y={p.top} width={right - left} height={p.bottom - p.top} fill="none" stroke="#000" strokeWidth={1.67} />
      <g stroke="#000">
        {xt.map((t, i) => (
          <line
            key={'tx' + i}
            x1={x(t.v)}
            x2={x(t.v)}
            y1={p.bottom}
            y2={p.bottom + (t.major ? 7.3 : 4.2)}
            strokeWidth={t.major ? 1.67 : 1.25}
          />
        ))}
        {yt.map((t, i) => (
          <line
            key={'ty' + i}
            x1={left}
            x2={left - (t.major ? 7.3 : 4.2)}
            y1={y(t.v)}
            y2={y(t.v)}
            strokeWidth={t.major ? 1.67 : 1.25}
          />
        ))}
      </g>
      <g fontFamily={FONT} fill="#000">
        {xt
          .filter((t) => t.major)
          .map((t, i) => (
            <text key={'lx' + i} x={x(t.v)} y={p.bottom + 24} textAnchor="middle" fontSize={13.6}>
              10
              <tspan dy={-5} fontSize={9.5}>
                {expLabel(t.e)}
              </tspan>
            </text>
          ))}
        {yt
          .filter((t) => t.major)
          .map((t, i) => (
            <text key={'ly' + i} x={290} y={y(t.v) + 7.4} textAnchor="end" fontSize={13.6}>
              10
              <tspan dy={-5} fontSize={9.5}>
                {expLabel(t.e)}
              </tspan>
            </text>
          ))}
      </g>
      <text x={(left + right) / 2} y={p.top - 9} textAnchor="middle" fontFamily={FONT} fontSize={28}>
        {p.title}
      </text>
      <text x={(left + right) / 2} y={p.bottom + 56} textAnchor="middle" fontFamily={FONT} fontSize={25}>
        Freq (hz)
      </text>
      <text
        transform={`translate(243,${(p.top + p.bottom) / 2}) rotate(-90)`}
        textAnchor="middle"
        fontFamily={FONT}
        fontSize={25}
      >
        m/rthz
      </text>
      <g>
        <rect
          x={legLeft}
          y={legTop}
          width={legW}
          height={legH}
          rx={5.5}
          ry={5.5}
          fill="#ffffff"
          fillOpacity={0.8}
          stroke="#cccccc"
          strokeOpacity={0.8}
          strokeWidth={2}
        />
        {p.series.map((s, i) => {
          const cy = legTop + 23.6 + i * 43.1;
          return (
            <g key={'lg' + i}>
              <line x1={1756} x2={1816} y1={cy} y2={cy} stroke={COLORS[i]} strokeWidth={LW} strokeLinecap="square" />
              <text x={1838} y={cy + 10} fontFamily={FONT} fontSize={27.4} fill="#000">
                {s.name}
              </text>
            </g>
          );
        })}
      </g>
    </g>
  );
}

export default function App() {
  return (
    <div style={{ position: 'absolute', left: 0, top: 0, width: 2400, height: 1600, background: '#fff' }}>
      <svg width={2400} height={1600} viewBox="0 0 2400 1600" style={{ display: 'block' }}>
        <rect x={0} y={0} width={2400} height={1600} fill="#fff" />
        <text x={1200} y={59} textAnchor="middle" fontFamily={FONT} fontSize={36.5}>
          CPS Spectra
        </text>
        <text x={1200} y={101} textAnchor="middle" fontFamily={FONT} fontSize={36.5}>
          1237194000 to 1237194600
        </text>
        {PANELS.map((p, i) => (
          <Panel key={p.title} p={p} idx={i} />
        ))}
        <text
          transform="translate(2296,878.5) rotate(-90)"
          textAnchor="middle"
          fontFamily={FONT}
          fontSize={16.7}
        >
          /opt/rtcds/userapps/trunk/sys/h1/scripts/BSC_cps_spectra.py
        </text>
      </svg>
    </div>
  );
}
